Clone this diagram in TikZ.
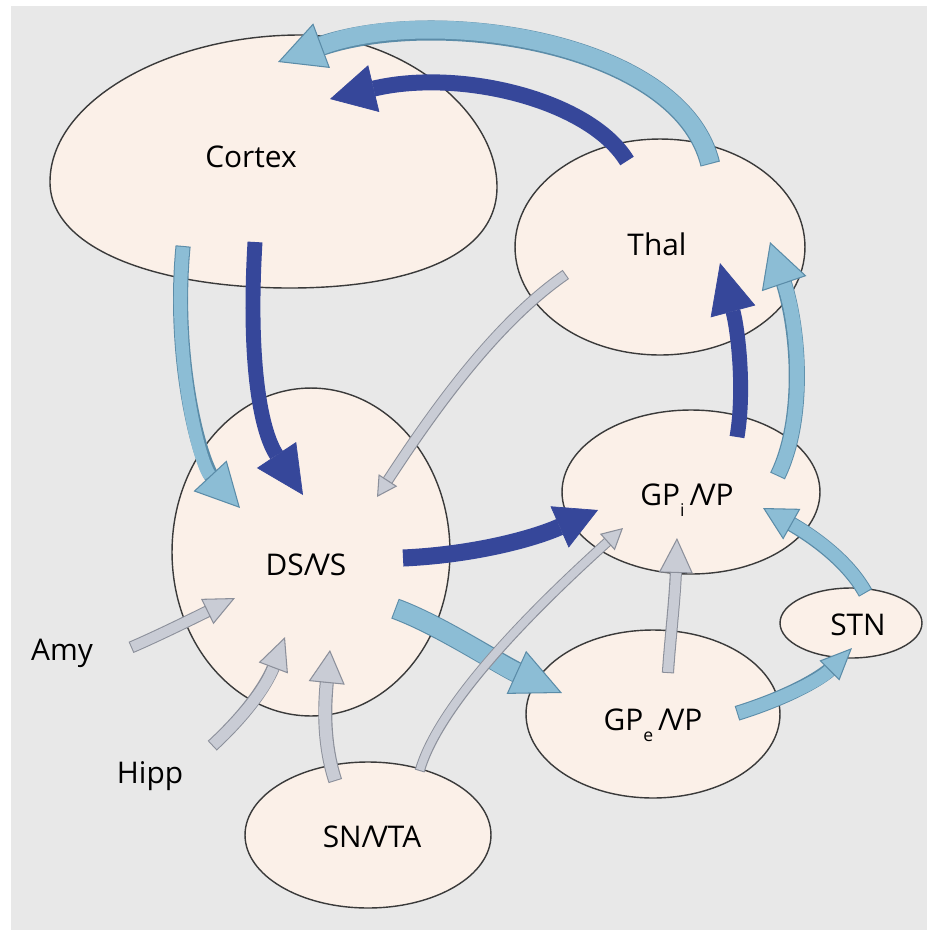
\documentclass[tikz,border=0pt]{standalone}
\usepackage{fontspec}
\setmainfont{Open Sans}
\usetikzlibrary{arrows.meta,shapes.geometric}

\definecolor{paper}{HTML}{E8E8E8}
\definecolor{peach}{HTML}{FBF0E8}
\definecolor{rim}{HTML}{3A3A3A}
\definecolor{dblue}{HTML}{36479A}
\definecolor{lblue}{HTML}{8CBDD5}
\definecolor{lblueedge}{HTML}{5B8CA8}
\definecolor{pale}{HTML}{C9CCD5}
\definecolor{paleedge}{HTML}{8C909B}

\newcommand\nodefont{\fontsize{17}{20}\selectfont}
\newcommand\subidx[1]{\raisebox{-6.5pt}{\fontsize{10}{12}\selectfont #1}}

\begin{document}
\begin{tikzpicture}[x=0.02cm, y=-0.02cm,
  regionpaint/.style={draw=rim, line width=0.8pt, fill=peach},
  region/.style={regionpaint, ellipse, inner sep=0pt},
  txt/.style={font=\nodefont, anchor=base, inner sep=0pt},
  dbarrow/.style n args={3}{draw=dblue, line width=#1,
    -{Triangle[length=#2, width=#3, line width=0.4pt 0 1, fill=dblue, color=dblue]}},
  lbarrow/.style n args={3}{draw=lblue, line width=#1,
    -{Triangle[length=#2, width=#3, line width=0.6pt 0 1, fill=lblue, color=lblueedge]},
    preaction={draw=lblueedge, line width=#1+1.2pt, arrows=-,
      shorten <=-0.6pt, shorten >=#2-4pt}},
  grarrow/.style n args={3}{draw=pale, line width=#1,
    -{Triangle[length=#2, width=#3, line width=0.6pt 0 1, fill=pale, color=paleedge]},
    preaction={draw=paleedge, line width=#1+1.2pt, arrows=-,
      shorten <=-0.6pt, shorten >=#2-3pt}}
]
\useasboundingbox (0,0) rectangle (927,931);
\fill[paper] (11,6) rectangle (927,930);

% regions
\coordinate (cortex) at (272,185);
\draw[regionpaint] (50,182) .. controls (50,100) and (170,35) .. (300,35)
  .. controls (400,35) and (497,110) .. (497,187)
  .. controls (497,260) and (400,288) .. (290,288)
  .. controls (160,288) and (50,250) .. (50,182) -- cycle;
\node[region, minimum width=5.8cm, minimum height=4.32cm] (thal) at (660,247) {};
\node[region, minimum width=5.56cm, minimum height=6.56cm] (dsvs) at (311,552) {};
\node[region, minimum width=5.16cm, minimum height=3.28cm] (gpi) at (691,492) {};
\node[region, minimum width=2.84cm, minimum height=1.4cm] (stn) at (851,623) {};
\node[region, minimum width=5.08cm, minimum height=3.36cm] (gpe) at (653,714) {};
\node[region, minimum width=4.92cm, minimum height=2.92cm] (sn) at (368,835) {};

% outside inputs
\node[txt] (amy) at (62,660) {Amy};
\node[txt] (hipp) at (150,783) {Hipp};

% projections
\draw[lbarrow={10.2pt}{26.5pt}{27pt}] ([shift={(50,-84)}]thal.center)
  .. controls +(-30,-123) and +(152,-57) .. ([shift={(6,-123)}]cortex);
\draw[dbarrow={9.1pt}{25.6pt}{27.3pt}] ([shift={(-33,-86)}]thal.center)
  .. controls +(-37,-61) and +(130,-31) .. ([shift={(58,-86)}]cortex);
\draw[lbarrow={7.4pt}{25pt}{25.6pt}] ([shift={(-89,62)}]cortex)
  .. controls +(-11,113) and +(-40,-43) .. ([shift={(-71,-44)}]dsvs.center);
\draw[dbarrow={8.5pt}{27.3pt}{26.7pt}] ([shift={(-17,57)}]cortex)
  .. controls +(-7,118) and +(-43,-65) .. ([shift={(-8,-57)}]dsvs.center);
\draw[grarrow={5.1pt}{11.4pt}{12.5pt}] ([shift={(-95,28)}]thal.center)
  .. controls +(-65,45) and +(63,-97) .. ([shift={(66,-55)}]dsvs.center);
\draw[dbarrow={9.7pt}{23.9pt}{25.6pt}] ([shift={(92,6)}]dsvs.center)
  .. controls +(67,-3) and +(-68,30) .. ([shift={(-93,18)}]gpi.center);
\draw[lbarrow={10.8pt}{28.5pt}{26.7pt}] ([shift={(85,57)}]dsvs.center)
  .. controls +(44,16) and +(-62,-28) .. ([shift={(-91,-21)}]gpe.center);
\draw[dbarrow={8.5pt}{28.5pt}{26.2pt}] ([shift={(46,-55)}]gpi.center)
  .. controls +(8,-47) and +(18,67) .. ([shift={(60,16)}]thal.center);
\draw[lbarrow={8pt}{25pt}{26.7pt}] ([shift={(87,-17)}]gpi.center)
  .. controls +(27,-55) and +(30,88) .. ([shift={(110,-5)}]thal.center);
\draw[lbarrow={7.4pt}{18.8pt}{19.9pt}] ([shift={(14,-31)}]stn.center)
  .. controls +(-15,-27) and +(57,32) .. ([shift={(72,16)}]gpi.center);
\draw[lbarrow={7.4pt}{18.2pt}{15.9pt}] ([shift={(85,-1)}]gpe.center)
  .. controls +(42,-13) and +(-33,33) .. ([shift={(1,25)}]stn.center);
\draw[grarrow={5.7pt}{19.9pt}{19.3pt}] ([shift={(15,-42)}]gpe.center)
  .. controls +(2,-32) and +(-2,62) .. ([shift={(-14,46)}]gpi.center);
\draw[grarrow={4.6pt}{12pt}{12.5pt}] ([shift={(52,-65)}]sn.center)
  .. controls +(20,-70) and +(-80,72) .. ([shift={(-68,36)}]gpi.center);
\draw[grarrow={6.8pt}{18.8pt}{20.5pt}] ([shift={(-33,-55)}]sn.center)
  .. controls +(-13,-40) and +(-5,50) .. ([shift={(19,98)}]dsvs.center);
\draw[grarrow={5.7pt}{17.6pt}{15.9pt}] ([shift={(70,-13)}]amy.base)
  .. controls +(28,-12) and +(-35,17) .. ([shift={(-76,46)}]dsvs.center);
\draw[grarrow={6.3pt}{18.8pt}{17.6pt}] ([shift={(63,-38)}]hipp.base)
  .. controls +(27,-25) and +(-20,53) .. ([shift={(-26,85)}]dsvs.center);

% region names
\node[txt] (cortexlbl) at (251,167) {Cortex};
\node[txt] (thallbl) at (657,255) {Thal};
\node[txt] (dsvslbl) at (306,575) {DS/\kern-1.5pt VS};
\node[txt] (gpilbl) at (687,505) {GP\subidx{i}\,/\kern-1.5pt VP};
\node[txt] (stnlbl) at (858,635) {STN};
\node[txt] (gpelbl) at (653,730) {GP\subidx{e}\,/\kern-1.5pt VP};
\node[txt] (snlbl) at (372,847) {SN/\kern-1.5pt VTA};
\end{tikzpicture}
\end{document}
